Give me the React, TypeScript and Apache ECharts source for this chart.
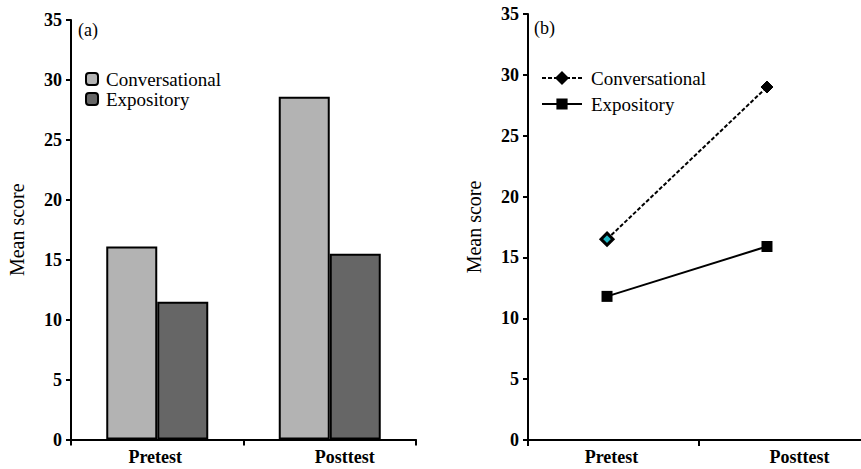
import React, { useEffect, useRef } from "react";
import * as echarts from "echarts";

const categories = ["Pretest", "Posttest"];
const barConversational = [16.1, 28.6];
const barExpository = [11.5, 15.5];
const lineConversational = [16.5, 29.0];
const lineExpository = [11.8, 15.9];
const yMin = 0;
const yMax = 35;
const yStep = 5;
const seriesNames = ["Conversational", "Expository"];

const FONT = "'Liberation Serif', 'DejaVu Serif', serif";

export default function App() {
  const ref = useRef<HTMLDivElement>(null);
  useEffect(() => {
    document.body.style.margin = "0";
    const chart = echarts.init(ref.current!, null, { renderer: "svg" });
    const yAxisBase = {
      type: "value",
      min: yMin,
      max: yMax,
      interval: yStep,
      name: "Mean score",
      nameLocation: "middle",
      nameRotate: 90,
      nameGap: 44,
      nameTextStyle: { fontFamily: FONT, fontSize: 20, color: "#000" },
      axisLine: { show: true, onZero: false, lineStyle: { color: "#000", width: 2 } },
      axisTick: { show: true, inside: false, length: 5, lineStyle: { color: "#000", width: 2 } },
      axisLabel: { margin: 9, fontFamily: FONT, fontSize: 18, fontWeight: "bold", color: "#000" },
      splitLine: { show: false },
    };
    const labelStyle = { fontFamily: FONT, fontSize: 18, fontWeight: "bold", color: "#000" };
    const xCatBase = {
      type: "category",
      data: categories,
      boundaryGap: true,
      axisLine: { show: true, onZero: false, lineStyle: { color: "#000", width: 2 } },
      axisTick: { show: true, inside: false, length: 6, lineStyle: { color: "#000", width: 2 } },
      axisLabel: {
        margin: 8,
        ...labelStyle,
        formatter: (v: string) => (v === categories[1] ? "{p|" + v + "}" : "{q|" + v + "}"),
        rich: {
          p: { ...labelStyle, padding: [0, 0, 0, 30] },
          q: { ...labelStyle, padding: [0, 4, 0, 0] },
        },
      },
      splitLine: { show: false },
    };
    const option: any = {
      animation: false,
      backgroundColor: "#fff",
      grid: [
        { left: 71, top: 20, width: 345, bottom: 29.5, outerBoundsMode: "none" },
        { left: 528, top: 14, width: 342, bottom: 29, outerBoundsMode: "none" },
      ],
      xAxis: [
        { ...xCatBase, gridIndex: 0 },
        { ...xCatBase, gridIndex: 1 },
        {
          type: "value",
          gridIndex: 1,
          min: -0.494,
          max: 1.644,
          show: false,
          splitLine: { show: false },
        },
      ],
      yAxis: [
        { ...yAxisBase, gridIndex: 0 },
        { ...yAxisBase, gridIndex: 1 },
      ],
      legend: [
        {
          orient: "vertical",
          left: 80,
          top: 64,
          itemWidth: 12,
          itemHeight: 12,
          itemGap: 0,
          data: [seriesNames[0], seriesNames[1]],
          textStyle: { fontFamily: FONT, fontSize: 19, color: "#000", lineHeight: 20, padding: [0, 0, 0, 3] },
        },
        {
          orient: "vertical",
          left: 536,
          top: 63,
          itemWidth: 40,
          itemHeight: 14,
          itemGap: 6,
          data: [seriesNames[0] + " (b)", seriesNames[1] + " (b)"],
          formatter: (n: string) => n.replace(" (b)", ""),
          textStyle: { fontFamily: FONT, fontSize: 19, color: "#000", lineHeight: 20, padding: [0, 0, 0, 4] },
        },
      ],
      series: [
        {
          name: seriesNames[0],
          type: "bar",
          xAxisIndex: 0,
          yAxisIndex: 0,
          barWidth: 51,
          barGap: "0%",
          data: barConversational,
          itemStyle: { color: "#b3b3b3", borderColor: "#000", borderWidth: 2 },
        },
        {
          name: seriesNames[1],
          type: "bar",
          xAxisIndex: 0,
          yAxisIndex: 0,
          barWidth: 51,
          barGap: "0%",
          data: barExpository,
          itemStyle: { color: "#666666", borderColor: "#000", borderWidth: 2 },
        },
        {
          name: seriesNames[0] + " (b)",
          type: "line",
          xAxisIndex: 2,
          yAxisIndex: 1,
          symbol: "diamond",
          symbolSize: 12,
          lineStyle: { color: "#000", width: 2, type: [4, 2] },
          itemStyle: { color: "#000", borderColor: "#000", borderWidth: 1 },
          data: lineConversational.map((v, i) =>
            i === 0
              ? { value: [i, v], itemStyle: { color: "#1fb8c4", borderColor: "#000", borderWidth: 3 } }
              : { value: [i, v] }
          ),
        },
        {
          name: seriesNames[1] + " (b)",
          type: "line",
          xAxisIndex: 2,
          yAxisIndex: 1,
          symbol: "rect",
          symbolSize: 11,
          lineStyle: { color: "#000", width: 2 },
          itemStyle: { color: "#000" },
          data: lineExpository.map((v, i) => [i, v]),
        },
      ],
      graphic: [
        { type: "text", left: 78, top: 21, style: { text: "(a)", fontFamily: FONT, fontSize: 18, fill: "#000" } },
        { type: "text", left: 534, top: 19, style: { text: "(b)", fontFamily: FONT, fontSize: 18, fill: "#000" } },
      ],
    };
    chart.setOption(option);
    return () => chart.dispose();
  }, []);
  return <div ref={ref} style={{ width: 861, height: 469 }} />;
}
